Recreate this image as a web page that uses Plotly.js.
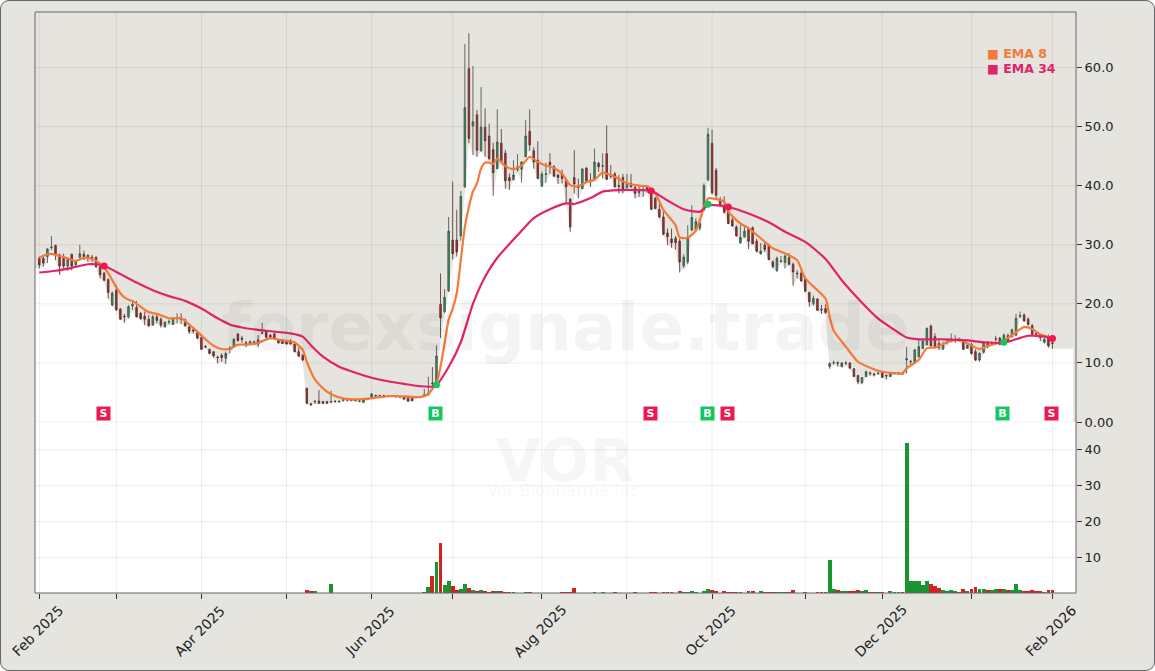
<!DOCTYPE html>
<html>
<head>
<meta charset="utf-8">
<script src="https://cdn.plot.ly/plotly-3.0.1.min.js"></script>
<style>
html,body{margin:0;padding:0;background:#fff;width:1155px;height:671px;overflow:hidden}
#frame{position:absolute;left:0;top:0;width:1153px;height:669px;background:#e6e4de;border:1px solid #666;border-radius:9px}
#chart{position:absolute;left:0;top:0;width:1155px;height:671px}
</style>
</head>
<body>
<div id="frame"></div>
<div id="chart"></div>
<script>
const opens=[
27.7,27.7,28,29.5,29.9,28.3,27.7,26.4,28.4,26.6,
27.9,28.4,28.2,27.9,27.9,26.3,25.2,24.1,19.8,22.3,
19.1,17.9,17.8,19.65,19.4,18.4,17.9,17.4,16.4,17.8,
17.4,16.1,16.9,16.5,17.5,17.6,17.3,16.1,15.6,15.1,
14.3,12.8,12.3,11.9,11,11.3,10.8,12.3,12.9,14.9,
14.2,13.4,13.3,13.2,13.9,15,15.4,14.7,14.9,13.9,
13.9,13.8,13.76,13.2,11.9,11.3,5.7,3.1,3.4,3.55,
3.44,3.44,3.4,3.5,3.5,3.7,3.7,3.75,3.6,3.5,
3.3,3.8,4.2,4.5,4.45,4.45,4.4,4.4,4.35,4.3,
4.3,4.2,4.2,4.2,4.2,4.5,4.7,6.6,6.8,19.9,
18.7,22.2,30.8,30.8,31.5,39.8,59.8,50.1,52,45.9,
49.9,48.4,46.1,42.9,47.2,45.5,41.4,41,42.7,42.8,
44.9,49.2,45.9,44.3,39.9,41.9,44,43.2,41.8,42,
41,37.7,41.4,39.8,39.5,43,40.9,41,43.8,43.3,
45.4,41.7,42,40,41.4,39.7,40.4,39.7,39,39.2,
39.7,39,37.85,36,34.7,32,31,31.1,30.6,26.45,
27.1,32.5,32.5,32.8,35.9,41,47.2,42.6,37.5,36.7,
35.7,34.2,33,30.3,31.35,32.65,32.9,30.6,28.5,29.95,
29.95,27.1,25.66,27.2,27,27.8,26.7,25.2,25.2,24.2,
21.9,20.1,20.8,19.1,19.2,9.4,10,10,9.35,9.95,
10,9,7.85,6.65,7.7,8.3,8.1,8.2,8.35,7.9,
7.7,8.2,8.25,8.2,10.5,10.2,10.1,11.05,12.45,13.03,
16.25,14.45,13.3,12.35,13.4,13.9,13.85,14,13.9,12.47,
13.15,11.9,10.5,11.8,13.5,13.1,14,14.2,13.5,14.6,
14.45,14.7,17.9,18.1,17.4,16.3,15,14.4,13.5,14.4,13.4];
const highs=[
28,28.3,29.4,31.5,30,28.5,28.5,27.7,28.5,27.4,
30,29,28.4,28.3,28,26.6,25.4,24.3,22.1,23.2,
19.3,18.3,19.8,20.65,20.5,18.6,18.7,18.1,18.1,18.1,
17.7,17,17.3,17.8,18.4,18.4,17.5,16.6,15.9,15.3,
14.4,13,12.4,12,11.2,11.6,11.9,12.8,14.2,15,
14.6,13.76,13.8,13.8,14.7,16.8,15.5,14.9,15.1,14,
14,13.9,14,13.6,12.6,11.5,5.8,3.2,3.7,5.4,
3.6,3.6,5.3,3.7,3.65,4,3.95,3.95,3.85,3.7,
3.85,4,4.9,4.6,4.6,4.6,4.5,4.5,4.45,4.4,
4.4,4.3,4.3,4.4,4.4,5.6,7.67,9.3,13,25.15,
22.5,34.7,40.7,35.9,39.1,64,65.8,60.3,52.8,56.7,
53.1,50.5,47.3,52.9,49.6,46.1,42.1,44.3,45.35,44.1,
51.1,52.9,46.5,47.5,42.4,43.9,45.5,43.5,42,42.75,
41.2,37.9,46,41.2,43,43.1,42.1,46.3,44.05,45.5,
50.2,43.5,42.3,41.8,42,42,42,40,40,39.8,
40.1,39.3,38.1,37,35.6,32.75,32.75,31.5,31,28.4,
33.3,36.7,34.5,34,40.4,49.8,49.5,43,38.1,38.2,
36.7,35,33.3,33.3,33.2,33,33.1,31,30.3,30.5,
30.2,27.4,28,28.1,28.3,28.6,27,25.7,26,24.6,
22.1,21.4,21,19.8,19.9,10.05,10.4,10.3,10.1,10.3,
10.1,9.1,8,7.6,8.7,8.55,8.3,8.5,8.5,8,
8.4,8.45,8.45,8.5,12.75,10.5,12.4,13.9,13.8,16,
16.5,15,13.9,13.6,14.1,15,14.7,14.3,14,13.2,
13.4,12.3,11.8,13.7,13.7,13.6,14.6,14.4,15,15,
15.8,18.3,18.7,18.4,17.7,16.6,15.3,14.7,14.2,14.8,14.4];
const lows=[
26,26.3,26.9,29.1,27.4,24.9,25.7,25.6,25.7,26.3,
27.7,27.4,27.1,27.1,26.1,24.3,23.8,20.9,19.6,18.8,
17.3,16.8,17.5,18.95,17.7,17.3,16.4,16.1,16.3,16.7,
16,16,16.5,16.4,16.7,16.6,16.1,14.9,15,14,
12.2,12.5,11.5,10.9,9.9,10.2,9.8,11.6,12.6,13.6,
13.4,12.64,13,13,12.64,14.9,14.2,14,14,13.3,
13.2,13.1,13.1,11.8,11,10.3,3,2.7,3.05,3.05,
3.1,3.1,3.16,3.3,3.3,3.44,3.5,3.5,3.45,3.35,
3.25,3.7,4.1,4.3,4.3,4.25,4.2,4.2,4.1,4.1,
3.7,3.4,3.5,4,4.05,4.2,4.4,6,6.3,14.2,
18.4,22,27.5,28,30.7,39.6,47.2,45.2,44.9,45.8,
44.9,44.3,38.3,42.75,43.8,39.5,39.3,40.9,42.35,40.5,
44.8,45.9,42.9,41.2,39.8,40.5,42,41.5,40.3,40.4,
37,32.2,38.7,37.85,39.4,40.7,39.8,40.9,42.35,41.2,
40.95,41.2,39.7,38.7,38.7,39.5,39.7,37.85,38.1,38.1,
38.8,35.9,36,34.45,31.6,29.95,29.5,29.2,25.3,26,
26.7,32.3,32.2,32.4,35.7,40.8,38.5,37.9,36.6,35.3,
33.5,33,31.4,30.2,31.2,29.27,30.05,28.7,28.3,28.8,
27.4,26,25.4,27,26,26.5,23.05,24.3,23.85,22,
19.5,19.7,18.8,18.3,18.3,9,9.7,9.4,9.3,9.6,
9,7.6,6.4,6.4,7.6,7.85,7.7,8,7.5,7.2,
7.6,8.05,8.05,7.95,8.2,9.75,10,10.9,12.3,13,
12.75,12.6,12.2,12.2,13.1,13.5,13.4,13.6,12.2,12.4,
11.4,10.3,10.2,11.6,12.5,12.9,13.5,13,13.3,13.5,
14.3,14.5,17.6,17,16.3,14.6,14.4,13.7,13.3,12.6,12.4];
const closes=[
26.6,26.9,29.3,29.6,28.4,26.4,26.4,27.5,26.4,27.3,
28.5,28,28,27.8,26.3,24.9,24,21.9,21.8,19,
17.4,17.8,19.5,19.9,17.8,17.5,17.4,16.3,17.8,17.2,
16.4,16.9,17,17.4,17.6,17.4,16.3,15.3,15.4,14.2,
12.3,12.7,11.6,11.2,10.9,10.9,11.6,12.4,14,13.8,
14,13.3,13.6,13.6,13.2,15.1,14.33,14.3,14.16,13.4,
13.3,13.2,13.2,11.9,11.17,10.5,3.16,3,3.5,3.16,
3.16,3.16,3.45,3.45,3.45,3.75,3.75,3.7,3.65,3.55,
3.75,3.85,4.75,4.4,4.4,4.4,4.35,4.35,4.3,4.25,
3.9,3.55,3.6,4.25,4.25,4.6,4.85,6.5,11.17,17.65,
21.1,32.3,28.5,28.8,38.2,53.2,48,50.8,46,49.9,
47.6,44.6,42.2,47.4,44.05,40.83,40.83,41.8,43.2,44,
48.4,46.9,44,41.2,41.96,42,43.5,41.6,41.4,41.2,
39.8,33,40.3,39.7,42.8,40.83,40.7,44,43.2,43.4,
41.07,41.6,39.8,39.9,39.5,40.5,39.8,38.7,38.9,39.3,
39.3,36,36.15,34.7,31.8,31.35,30.34,30.34,27.1,27.9,
31.2,34.6,33.9,33.6,40,48.7,38.8,38.4,36.7,35.5,
33.6,33.2,31.5,31.25,32.3,30.6,30.2,28.9,28.9,29.2,
27.5,26.3,27.7,27.25,28.1,26.7,25.4,25.1,23.85,22.15,
20.35,20.9,18.9,19,18.55,9.9,10.05,9.95,10,10,
9.1,7.7,6.8,7.5,8.5,8.2,8,8.25,7.55,7.8,
8.25,8.3,8.3,8.15,10.7,10.25,12.2,12.75,13.7,15.85,
12.9,12.75,12.6,13.15,13.5,14,13.9,13.8,12.3,13,
11.6,10.5,11.6,13.5,12.75,13.2,14.1,13.15,14.7,13.7,
15.6,17.55,18,17.1,16.5,14.85,14.9,14.35,14,12.9,13.3];
const volumes=[
.03,.03,.03,.03,.03,.03,.03,.03,.03,.03,
.03,.03,.03,.03,.03,.03,.03,.03,.03,.03,
.03,.03,.03,.03,.03,.03,.03,.03,.03,.03,
.03,.03,.03,.03,.03,.03,.03,.03,.03,.03,
.03,.03,.03,.03,.03,.03,.03,.03,.03,.03,
.03,.03,.03,.03,.03,.03,.03,.03,.03,.03,
.03,.03,.03,.03,.03,.03,.95,.6,.6,.03,
.03,.03,2.6,.03,.03,.03,.03,.03,.03,.03,
.03,.03,.03,.03,.03,.03,.03,.03,.03,.03,
.03,.03,.03,.03,.05,.45,1.8,5,8.7,14,
2.4,3.4,2,1.1,1.2,2.6,1.5,.9,.6,.9,
.6,.5,.6,.6,.6,.5,.5,.5,.05,.05,
.5,.5,.1,.1,.1,.1,.1,.1,.1,.5,
.5,.5,1.5,.05,.05,.05,.1,.5,.05,.5,
.1,.1,.5,.05,.05,.05,.05,.5,.05,.05,
.05,.5,.5,.05,.5,.5,.5,.05,.8,.45,
.5,.7,.5,.1,.7,1.2,.9,.7,.2,.6,
.45,.45,.45,.45,.1,.7,.7,.2,.6,.45,
.45,.45,.45,.45,.45,.45,.9,.1,.1,.5,
.1,.1,.45,.5,.5,9.3,1.2,.9,.6,.6,
.8,.8,1.1,.6,.9,.45,.45,.45,.45,.1,
.6,.45,.45,.45,42,3.4,3.4,3.4,2.3,3.6,
2.6,2.1,1.6,.9,.6,.9,.6,.5,1.4,.6,
1.2,1.7,1.4,1.4,.9,.9,1.2,1.2,1.2,.9,
.9,2.6,.9,.6,.6,.9,.7,.6,.45,1,1];

const ema34Index=[0,4,8,12,14,16,20,24,28,32,36,40,44,47,50,54,58,62,65,67,70,74,78,82,86,90,94,97,98,101,104,107,110,113,118,122,126,130,132,136,139,143,148,151,155,159,163,165,170,175,180,184,189,194,198,203,207,211,214,217,223,229,233,238,241,244,248,250];
const ema34Values=[25.3,25.6,26.1,26.7,26.7,26.45,25.05,23.6,22.3,21.3,20.5,19.2,17.55,16.5,16,15.6,15.3,15,14.45,13,11.05,9.35,8.35,7.5,6.9,6.45,6.05,6,6.25,9.3,13.5,20,24.6,27.8,31.6,34.5,36,37,36.9,37.9,39,39.25,39.25,39.15,37.5,36,35.6,36.7,36.4,35.3,33.8,32.2,30.5,27.6,24,20.2,17.5,15.6,14.3,14,14,13.8,13.5,13.4,14,14.6,14.45,14.15];
const ema8Index=[0,2,3,5,7,9,11,13,15,17,18,19,20,21,22,23,24,26,27,29,32,35,37,39,41,43,45,47,49,51,54,57,60,63,65,66,68,70,72,75,79,83,87,91,94,96,97,98,99,100,101,102,103,104,105,106,107,108,109,110,111,112,113,115,117,119,121,123,125,127,129,131,133,135,137,139,142,145,148,150,152,154,157,158,160,162,164,165,166,169,170,173,175,178,181,184,187,189,194,195,196,199,202,205,208,213,214,217,219,221,224,227,229,232,234,237,240,243,245,247,250];
const ema8Values=[27.8,28.4,28.45,28.1,27.7,27.25,27.8,27.6,26.8,25.2,24,22.8,21.8,21.1,20.7,20.5,20,19,18.6,18.3,17.55,17.55,16.5,15.3,14,12.9,12.35,12.4,13.1,13.1,13.4,14.2,13.8,13.45,12.2,10.2,7.2,5.7,4.7,4,3.85,4.1,4.4,4.3,4.2,4.74,5.6,6.5,9.4,13.3,17.3,19.2,21.8,27.4,33,36.4,39,40.4,42.9,43.9,43.9,43.7,44.6,43.3,42.8,43.4,44.9,44,43.4,43,42,40.1,39.9,40.6,41,42.2,41.5,40.4,40,39.9,38.7,35.9,33.3,31.25,31.2,32.4,36.4,37.85,37.85,37.3,35.6,33.6,32.8,31.1,29.4,28.55,27.4,24.3,20.9,17.8,15.5,12.75,10.2,9.2,8.5,8.24,9.1,10.5,12.5,12.6,13.5,14,13.3,12.35,12.9,13.4,14.7,16.1,15.75,14.8,14.2];

const signalLetters=["S","B","S","B","S","B","S"];
const signalIndex=[16,98,151,165,170,238,250];
const signalPrice=[26.4,6.3,39.1,36.85,36.4,13.5,14.15];
const signalLabelPrice=[1.47,1.47,1.47,1.47,1.47,1.47,1.47];

const monthTicks=[0,19,40,61,82,102,124,145,166,189,208,230,250];
const monthLabels=["Feb 2025","","Apr 2025","","Jun 2025","","Aug 2025","","Oct 2025","","Dec 2025","","Feb 2026"];
const priceTicks=[0,10,20,30,40,50,60];
const priceLabels=["0.00","10.0","20.0","30.0","40.0","50.0","60.0"];
const volumeTicks=[10,20,30,40];

const xRange=[-1.06,255.8];
const priceRange=[0,69.4];
const volumeRange=[0.15,47.7];
const fillEnd=255.1;
const idx=opens.map((_,i)=>i);

const W=1155,H=671,L=35,R=79,T=12,B=78;
const PW=W-L-R,PH=H-T-B;
const paperX=px=>(px-L)/PW, paperY=py=>(H-B-py)/PH;

const COLS={bg:'#e6e4de',buy:'#10c760',sell:'#f01650',ema8:'#f5793a',ema34:'#e0246a',
  volUp:'#17962f',volDn:'#d42020',candleUp:'#2aa05c',candleDn:'#bb2a2a',grid:'rgba(0,0,0,0.07)'};

function gridTrace(yaxis,yTicks,yR){
  const x=[],y=[];
  monthTicks.forEach(t=>{x.push(t,t,null);y.push(yR[0],yR[1],null);});
  yTicks.forEach(t=>{x.push(xRange[0],xRange[1],null);y.push(t,t,null);});
  return {type:'scatter',mode:'lines',x,y,xaxis:'x',yaxis,line:{color:COLS.grid,width:1},hoverinfo:'skip',showlegend:false,connectgaps:false};
}

const traces=[
  {type:'scatter',mode:'lines',x:[xRange[0],...idx,fillEnd],y:[lows[0],...lows,lows[lows.length-1]],
   xaxis:'x',yaxis:'y',fill:'tozeroy',fillcolor:'#ffffff',line:{width:0,color:'rgba(0,0,0,0)'},hoverinfo:'skip',showlegend:false},
  gridTrace('y',priceTicks,priceRange),
  gridTrace('y2',volumeTicks,volumeRange),
  {type:'bar',x:idx,y:volumes,xaxis:'x',yaxis:'y2',width:0.95,
   marker:{color:idx.map(i=>closes[i]>=opens[i]?COLS.volUp:COLS.volDn),line:{width:0}},hoverinfo:'skip',showlegend:false},
  {type:'candlestick',x:idx,open:opens,high:highs,low:lows,close:closes,xaxis:'x',yaxis:'y3',
   increasing:{line:{color:'#3d4a42',width:0.8},fillcolor:COLS.candleUp},
   decreasing:{line:{color:'#4c2f2f',width:0.8},fillcolor:COLS.candleDn},
   whiskerwidth:0,hoverinfo:'skip',showlegend:false},
  {type:'scatter',mode:'lines',x:ema8Index,y:ema8Values,xaxis:'x',yaxis:'y3',name:'EMA 8',
   line:{color:COLS.ema8,width:2.2,shape:'spline',smoothing:0.6},hoverinfo:'skip',showlegend:false},
  {type:'scatter',mode:'lines',x:ema34Index,y:ema34Values,xaxis:'x',yaxis:'y3',name:'EMA 34',
   line:{color:COLS.ema34,width:2.2,shape:'spline',smoothing:0.6},hoverinfo:'skip',showlegend:false},
  {type:'scatter',mode:'markers',x:signalIndex,y:signalPrice,xaxis:'x',yaxis:'y3',
   marker:{size:7,color:signalLetters.map(s=>s==='B'?COLS.buy:COLS.sell)},hoverinfo:'skip',showlegend:false}
];

const annotations=[];
function note(text,px,py,size,color,bold,extra){
  annotations.push(Object.assign({xref:'paper',yref:'paper',x:paperX(px),y:paperY(py),text:bold?'<b>'+text+'</b>':text,showarrow:false,
    font:{family:'DejaVu Sans',size,color},xanchor:'center',yanchor:'middle'},extra||{}));
}
note('forexsignale.trade',566,327,66,'rgba(0,0,0,0.045)',true);
note('VOR',565,461,58,'rgba(0,0,0,0.035)',true);
note('Vor Biopharma Inc.',565,490,16.5,'rgba(0,0,0,0.045)',false);
note('Volumen',1116,520,12,'rgba(0,0,0,0.025)',false,{textangle:-90});
note('■ EMA 8',985,53,12.5,COLS.ema8,true,{xanchor:'left'});
note('■ EMA 34',985,69,12.5,COLS.ema34,true,{xanchor:'left'});
signalLetters.forEach((s,i)=>{
  annotations.push({xref:'x',yref:'y',x:signalIndex[i],y:signalLabelPrice[i],xshift:-1,text:'<b>'+s+'</b>',showarrow:false,
    font:{family:'DejaVu Sans',size:11,color:'#ffffff'},bgcolor:s==='B'?COLS.buy:COLS.sell,width:13,height:13,borderpad:0,
    xanchor:'center',yanchor:'middle',align:'center',valign:'middle'});
});
monthLabels.forEach((s,i)=>{
  if(!s)return;
  annotations.push({xref:'x',yref:'paper',x:monthTicks[i],y:paperY(630.5),text:s,showarrow:false,textangle:-45,xshift:-2,
    font:{family:'DejaVu Sans',size:14,color:'#222'},xanchor:'center',yanchor:'middle'});
});

const tickFont={family:'DejaVu Sans',size:13,color:'#222'};
const layout={
  width:W,height:H,margin:{l:L,r:R,t:T,b:B,pad:0},
  paper_bgcolor:'rgba(0,0,0,0)',plot_bgcolor:COLS.bg,
  showlegend:false,dragmode:false,barmode:'overlay',bargap:0,boxgap:0.45,
  xaxis:{type:'linear',range:xRange,anchor:'y2',showgrid:false,zeroline:false,showline:false,tickmode:'array',
    tickvals:monthTicks,ticktext:monthLabels,showticklabels:false,ticks:'outside',ticklen:5,tickcolor:'#333',tickwidth:1,
    rangeslider:{visible:false},fixedrange:true},
  yaxis:{domain:[paperY(422),1],range:priceRange,side:'right',anchor:'x',showgrid:false,zeroline:false,showline:false,
    tickmode:'array',tickvals:priceTicks,ticktext:priceLabels,ticks:'outside',ticklen:5,tickcolor:'#333',tickwidth:1,tickfont:tickFont,fixedrange:true},
  yaxis2:{domain:[0,paperY(422)],range:volumeRange,side:'right',anchor:'x',showgrid:false,zeroline:false,showline:false,
    tickmode:'array',tickvals:volumeTicks,ticktext:volumeTicks.map(String),ticks:'outside',ticklen:5,tickcolor:'#333',tickwidth:1,tickfont:tickFont,fixedrange:true},
  yaxis3:{overlaying:'y',range:priceRange,side:'right',anchor:'x',visible:false,fixedrange:true},
  shapes:[
    {type:'rect',xref:'x domain',yref:'y2 domain',x0:0,x1:1,y0:0,y1:1,fillcolor:'#ffffff',line:{width:0},layer:'below'},
    {type:'rect',xref:'paper',yref:'paper',x0:0,x1:1,y0:0,y1:1,fillcolor:'rgba(0,0,0,0)',line:{color:'#666',width:1},layer:'above'}
  ],
  annotations
};
Plotly.newPlot('chart',traces,layout,{staticPlot:true,displayModeBar:false});
</script>
</body>
</html>
